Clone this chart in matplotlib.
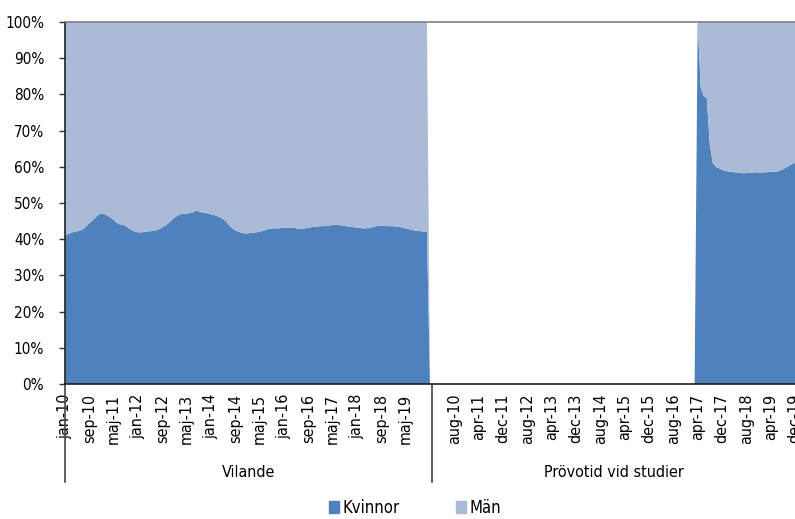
import matplotlib
matplotlib.use("Agg")
import matplotlib.pyplot as plt
import matplotlib.patches as mpatches
import matplotlib.transforms as mtransforms
import numpy as np

plt.rcParams['font.family'] = ['DejaVu Sans']
plt.rcParams['font.stretch'] = 'condensed'

# andel kvinnor (%) per månad, jan-10 .. dec-19
vilande_kvinnor = [
    41.0, 41.4, 41.8, 42.0, 42.2, 42.4, 42.8, 43.6, 44.4, 45.2, 46.0, 46.8,
    47.1, 46.9, 46.5, 46.0, 45.3, 44.6, 44.1, 44.0, 43.6, 43.0, 42.5, 42.1,
    41.9, 41.9, 42.0, 42.1, 42.2, 42.3, 42.5, 42.8, 43.3, 43.8, 44.4, 45.2,
    46.0, 46.5, 46.9, 47.0, 47.1, 47.2, 47.4, 47.8, 47.7, 47.4, 47.3, 47.1,
    46.9, 46.7, 46.4, 46.0, 45.6, 44.8, 43.8, 43.0, 42.4, 42.1, 41.8, 41.6,
    41.6, 41.7, 41.8, 41.9, 42.1, 42.3, 42.6, 42.8, 43.0, 43.0, 43.0, 43.1,
    43.1, 43.2, 43.2, 43.2, 43.0, 42.8, 42.8, 43.0, 43.2, 43.3, 43.4, 43.5,
    43.6, 43.6, 43.7, 43.8, 43.9, 44.0, 43.9, 43.8, 43.7, 43.5, 43.4, 43.3,
    43.2, 43.1, 43.0, 43.0, 43.1, 43.3, 43.5, 43.7, 43.7, 43.7, 43.6, 43.6,
    43.6, 43.5, 43.4, 43.2, 43.0, 42.8, 42.6, 42.4, 42.3, 42.2, 42.1, 42.0,
]
vilande_tom = [0]  # sista kategorin i gruppen saknar värde

# prövotid: inga värden jan-10 .. mar-17, sedan apr-17 .. dec-19
provotid_tom = [0] * 87
provotid_kvinnor = [
    100.0, 82.0, 79.5, 79.0, 66.0, 61.0, 60.0, 59.6, 59.2,
    58.9, 58.7, 58.6, 58.5, 58.4, 58.3, 58.2, 58.3, 58.4, 58.4, 58.5, 58.4,
    58.4, 58.5, 58.5, 58.6, 58.6, 58.7, 58.9, 59.3, 59.8, 60.3, 60.7, 61.2,
]

manader = ['jan', 'feb', 'mar', 'apr', 'maj', 'jun',
           'jul', 'aug', 'sep', 'okt', 'nov', 'dec']
grupper = ['Vilande', 'Prövotid vid studier']
serier = ['Kvinnor', 'Män']
farger = ['#4F81BD', '#AABAD7']

# bygg serierna
kv_1 = list(vilande_kvinnor) + vilande_tom
man_1 = [100 - v for v in vilande_kvinnor] + vilande_tom
kv_2 = provotid_tom + provotid_kvinnor
man_2 = provotid_tom + [100 - v for v in provotid_kvinnor]

kvinnor = np.array(kv_1 + kv_2)
man = np.array(man_1 + man_2)
x = np.arange(len(kvinnor))
start_2 = len(kv_1)

fig = plt.figure(figsize=(7.95, 5.19), dpi=100, facecolor='white')
ax = fig.add_axes([65 / 795, 1 - 384 / 519, 730 / 795, 362 / 519])

ax.stackplot(x, kvinnor, man, colors=farger, linewidth=0)

ax.set_xlim(0, len(x) - 1)
ax.set_ylim(0, 100)

# y-axel
ax.set_yticks(np.arange(0, 101, 10))
ax.set_yticklabels([f'{v}%' for v in range(0, 101, 10)], fontsize=11)
ax.tick_params(axis='y', direction='out', length=4, width=1, color='#333333', pad=11)

# x-axel, var 8:e månad
tick_pos = []
tick_lab = []
for i in range(0, len(vilande_kvinnor), 8):
    tick_pos.append(i)
    tick_lab.append(f'{manader[i % 12]}-{10 + i // 12}')
for i in range(start_2 + 7, len(x), 8):
    m = i - start_2
    tick_pos.append(i)
    tick_lab.append(f'{manader[m % 12]}-{10 + m // 12}')
ax.set_xticks(tick_pos)
ax.set_xticklabels(tick_lab, rotation=90, fontsize=11.5, va='top', ha='center')
ax.tick_params(axis='x', length=0, pad=7)

for s in ['left', 'bottom']:
    ax.spines[s].set_color('#222222')
    ax.spines[s].set_linewidth(1.2)
ax.spines['top'].set_color('#7F7F7F')
ax.spines['top'].set_linewidth(1.2)
ax.spines['right'].set_visible(False)

# gruppavdelare och grupprubriker
trans = mtransforms.blended_transform_factory(ax.transData, ax.transAxes)
for xd in [0, start_2 - 0.4]:
    ax.plot([xd, xd], [0, -98 / 362], transform=trans, color='#444444',
            linewidth=1.2, clip_on=False)
ax.text((start_2 - 0.4) / 2, -93 / 362, grupper[0], transform=trans,
        ha='center', va='baseline', fontsize=11.5)
ax.text((start_2 - 0.4 + len(x) - 1) / 2, -93 / 362, grupper[1], transform=trans,
        ha='center', va='baseline', fontsize=11.5)

# legend
handles = [mpatches.Patch(color=c, label=l) for c, l in zip(farger, serier)]
fig.legend(handles=handles, loc='center', bbox_to_anchor=(0.522, 0.021),
           ncol=2, frameon=False, fontsize=12, handlelength=0.6, handleheight=0.7,
           handletextpad=0.2, columnspacing=3.4, borderpad=0.1)

fig.savefig('out.png', dpi=100, facecolor='white')
